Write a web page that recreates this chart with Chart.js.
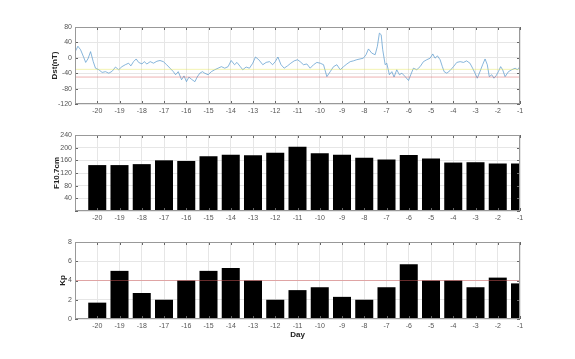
<!DOCTYPE html>
<html>
<head>
<meta charset="utf-8">
<script src="https://cdn.jsdelivr.net/npm/chart.js@4.4.1/dist/chart.umd.min.js"></script>
<style>
body { margin: 0; background: #fff; width: 575px; height: 359px; position: relative; overflow: hidden; }
canvas { position: absolute; left: 0; }
</style>
</head>
<body>
<canvas id="dstChart" width="575" height="120" style="top:0"></canvas>
<canvas id="f107Chart" width="575" height="107" style="top:120px"></canvas>
<canvas id="kpChart" width="575" height="129" style="top:230px"></canvas>
<script>
// daily values, days before event
const days = [-20, -19, -18, -17, -16, -15, -14, -13, -12, -11, -10, -9, -8, -7, -6, -5, -4, -3, -2, -1];
const f107 = [145, 145, 148, 160, 158, 173, 178, 176, 184, 203, 182, 178, 168, 163, 177, 166, 153, 154, 150, 150];
const kp = [1.7, 5.0, 2.7, 2.0, 4.0, 5.0, 5.3, 4.0, 2.0, 3.0, 3.3, 2.3, 2.0, 3.3, 5.7, 4.0, 4.0, 3.3, 4.3, 3.7];

// Dst trace (day, nT)
const dstDay = [
  -21.0, -20.87, -20.75, -20.6, -20.52, -20.42, -20.3, -20.18, -20.08, -19.93,
  -19.78, -19.63, -19.48, -19.33, -19.18, -19.04, -18.89, -18.74, -18.59, -18.49,
  -18.37, -18.25, -18.14, -17.99, -17.89, -17.77, -17.62, -17.47, -17.32, -17.18,
  -17.03, -16.88, -16.73, -16.58, -16.48, -16.36, -16.21, -16.1, -15.99, -15.88,
  -15.76, -15.61, -15.51, -15.39, -15.27, -15.17, -15.02, -14.87, -14.72, -14.57,
  -14.42, -14.27, -14.12, -13.98, -13.83, -13.72, -13.57, -13.46, -13.31, -13.16,
  -13.01, -12.89, -12.74, -12.56, -12.41, -12.26, -12.12, -12.0, -11.88, -11.74,
  -11.6, -11.45, -11.3, -11.15, -11.0, -10.88, -10.73, -10.58, -10.43, -10.28,
  -10.13, -9.98, -9.83, -9.68, -9.53, -9.38, -9.23, -9.08, -8.93, -8.78,
  -8.63, -8.49, -8.34, -8.19, -8.04, -7.92, -7.81, -7.66, -7.51, -7.41,
  -7.32, -7.24, -7.17, -7.06, -6.99, -6.87, -6.76, -6.66, -6.54, -6.42,
  -6.31, -6.16, -6.01, -5.91, -5.79, -5.64, -5.49, -5.34, -5.19, -5.04,
  -4.92, -4.82, -4.71, -4.59, -4.49, -4.41, -4.29, -4.14, -3.99, -3.84,
  -3.69, -3.54, -3.4, -3.25, -3.13, -3.02, -2.92, -2.8, -2.68, -2.57,
  -2.47, -2.38, -2.27, -2.17, -2.08, -1.97, -1.87, -1.78, -1.67, -1.52,
  -1.37, -1.22, -1.12, -1.0
];
const dstValue = [
  15, 30, 21, 0, -12, -3, 16, -10, -27, -31,
  -38, -36, -40, -35, -24, -31, -23, -18, -14, -21,
  -10, -3, -12, -16, -10, -16, -10, -14, -9, -7,
  -10, -18, -27, -36, -44, -36, -57, -47, -62, -50,
  -56, -62, -50, -40, -36, -40, -44, -36, -31, -27,
  -23, -27, -23, -7, -18, -12, -23, -31, -24, -27,
  -14, 2, -5, -18, -12, -10, -18, -10, 2, -18,
  -27, -21, -14, -8, -5, -10, -18, -16, -27, -18,
  -12, -14, -18, -49, -36, -23, -18, -31, -23, -16,
  -10, -8, -5, -3, -1, 8, 23, 12, 8, 30,
  64, 60, 21, -18, -14, -44, -36, -50, -31, -44,
  -40, -49, -59, -44, -27, -31, -23, -10, -5, -1,
  10, -1, 5, -5, -23, -36, -40, -33, -23, -12,
  -10, -12, -8, -14, -27, -40, -53, -36, -18, -3,
  -18, -49, -44, -53, -47, -36, -23, -31, -49, -36,
  -31, -27, -31, -23
];
const dstQuiet = -30;
const dstStorm = -50;
const kpStorm = 4;
const dayMin = -21, dayMax = -1;

Chart.defaults.font.family = "'Liberation Sans', Arial, sans-serif";
Chart.defaults.font.size = 7;
Chart.defaults.color = '#555';
Chart.defaults.animation = false;

// box around axes + inward tick marks like matlab
const matlabBox = {
  id: 'matlabBox',
  afterDraw(chart) {
    const { ctx, chartArea: a, scales: { x, y } } = chart;
    ctx.save();
    ctx.strokeStyle = '#666';
    ctx.lineWidth = 1;
    ctx.beginPath();
    x.ticks.forEach(t => {
      const px = Math.round(x.getPixelForValue(t.value)) + 0.5;
      ctx.moveTo(px, a.top); ctx.lineTo(px, a.top + 3);
      ctx.moveTo(px, a.bottom); ctx.lineTo(px, a.bottom - 3);
    });
    y.ticks.forEach(t => {
      const py = Math.round(y.getPixelForValue(t.value)) + 0.5;
      ctx.moveTo(a.left, py); ctx.lineTo(a.left + 3, py);
      ctx.moveTo(a.right, py); ctx.lineTo(a.right - 3, py);
    });
    ctx.stroke();
    ctx.strokeStyle = '#999';
    ctx.strokeRect(Math.round(a.left) + 0.5, Math.round(a.top) + 0.5, Math.round(a.width) - 1, Math.round(a.height) - 1);
    ctx.restore();
  }
};

function dayAxis(height, title) {
  return {
    type: 'linear',
    min: dayMin,
    max: dayMax,
    offset: false,
    grid: { color: '#e6e6e6', drawTicks: false, offset: false },
    border: { display: false },
    ticks: { stepSize: 1, padding: 3, maxRotation: 0, autoSkip: false, callback: v => v === dayMin ? '' : v },
    title: title ? { display: true, text: title, padding: 0, color: '#222', font: { size: 8, weight: 'bold' } } : { display: false },
    afterFit: s => { s.height = height; }
  };
}

function valueAxis(min, max, step, width, title, hideZero) {
  return {
    min: min,
    max: max,
    grid: { color: '#e6e6e6', drawTicks: false },
    border: { display: false },
    ticks: { stepSize: step, padding: 3, callback: v => (hideZero && v === 0) ? '' : v },
    title: { display: true, text: title, padding: 0, color: '#222', font: { size: 8, weight: 'bold' } },
    afterFit: s => { s.width = width; }
  };
}

function hline(val, color) {
  return {
    type: 'line',
    data: [{ x: dayMin, y: val }, { x: dayMax, y: val }],
    borderColor: color,
    borderWidth: 0.6,
    pointRadius: 0
  };
}

new Chart(document.getElementById('dstChart'), {
  type: 'line',
  data: {
    datasets: [
      hline(dstQuiet, 'rgba(225,225,70,0.7)'),
      hline(dstStorm, 'rgba(215,90,90,0.8)'),
      {
        data: dstDay.map((d, i) => ({ x: d, y: dstValue[i] })),
        borderColor: '#5596cc',
        borderWidth: 0.7,
        pointRadius: 0,
        tension: 0
      }
    ]
  },
  options: {
    responsive: false,
    layout: { padding: { left: 50, right: 55, top: 27, bottom: 0 } },
    plugins: { legend: { display: false }, tooltip: { enabled: false } },
    scales: {
      x: dayAxis(16),
      y: valueAxis(-120, 80, 40, 25, 'Dst(nT)', false)
    }
  },
  plugins: [matlabBox]
});

new Chart(document.getElementById('f107Chart'), {
  type: 'bar',
  data: {
    datasets: [{
      data: days.map((d, i) => ({ x: d, y: f107[i] })),
      backgroundColor: '#000',
      borderWidth: 0,
      barPercentage: 0.81,
      categoryPercentage: 1
    }]
  },
  options: {
    responsive: false,
    layout: { padding: { left: 52, right: 55, top: 15, bottom: 0 } },
    plugins: { legend: { display: false }, tooltip: { enabled: false } },
    scales: {
      x: dayAxis(16),
      y: valueAxis(0, 240, 40, 23, 'F10.7cm', true)
    }
  },
  plugins: [matlabBox]
});

new Chart(document.getElementById('kpChart'), {
  type: 'bar',
  data: {
    datasets: [
      {
        data: days.map((d, i) => ({ x: d, y: kp[i] })),
        backgroundColor: '#000',
        borderWidth: 0,
        barPercentage: 0.81,
        categoryPercentage: 1,
        order: 2
      },
      Object.assign(hline(kpStorm, 'rgba(215,90,90,0.8)'), { order: 1 })
    ]
  },
  options: {
    responsive: false,
    layout: { padding: { left: 58, right: 55, top: 12, bottom: 19 } },
    plugins: { legend: { display: false }, tooltip: { enabled: false } },
    scales: {
      x: dayAxis(21, 'Day'),
      y: valueAxis(0, 8, 1, 17, 'Kp', false)
    }
  },
  plugins: [matlabBox]
});
</script>
</body>
</html>
